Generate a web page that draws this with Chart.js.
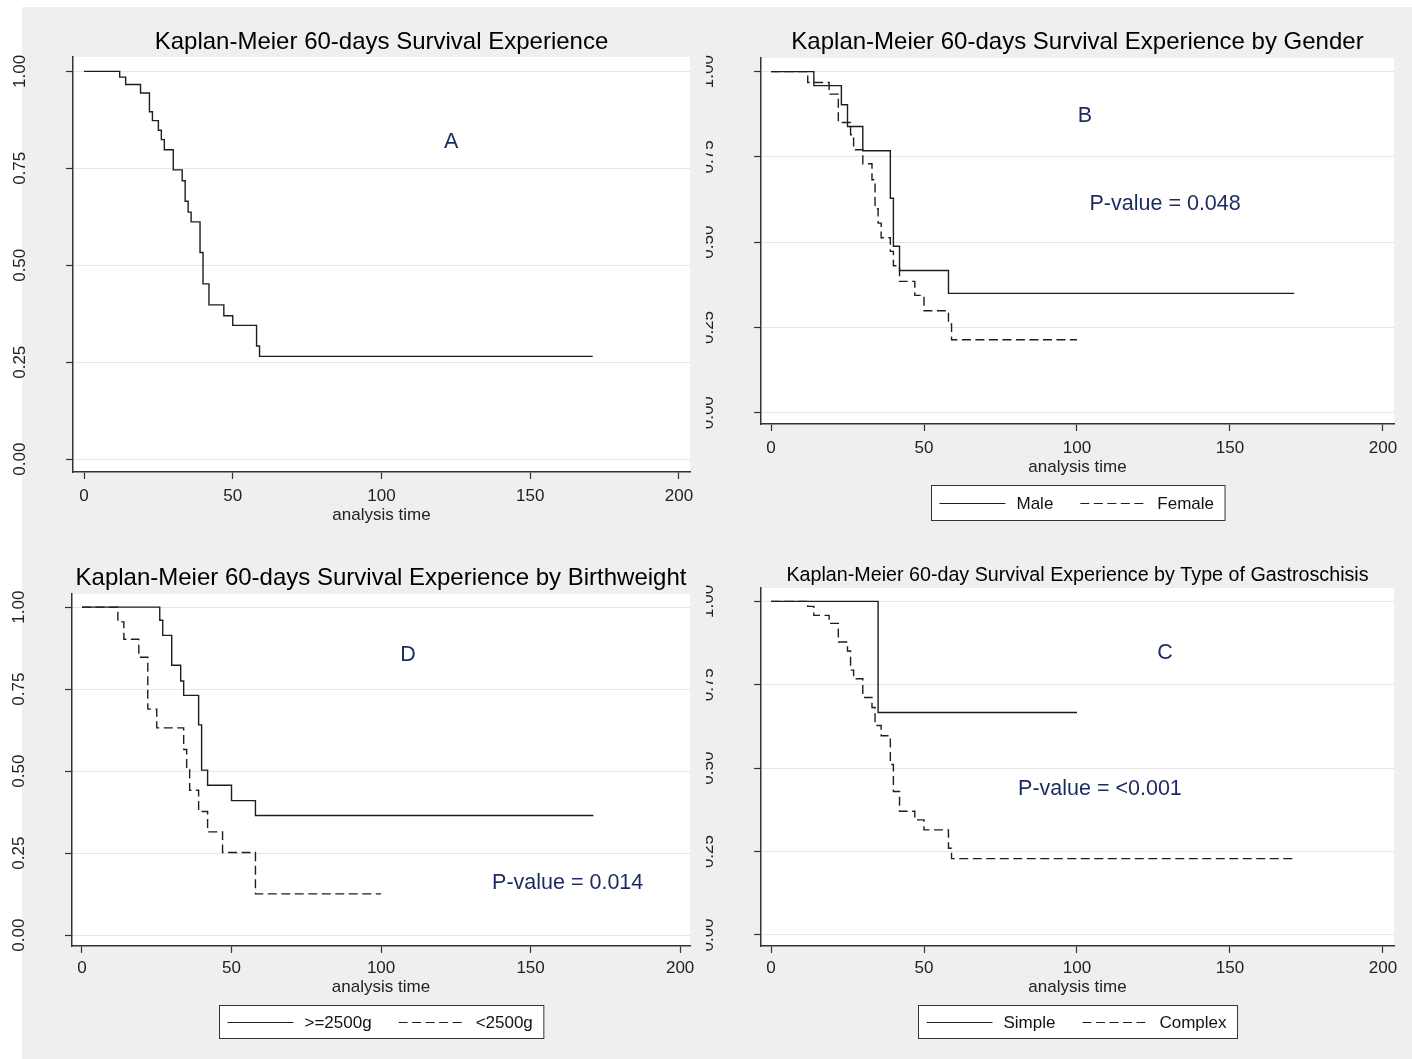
<!DOCTYPE html>
<html><head><meta charset="utf-8">
<script src="https://cdn.jsdelivr.net/npm/chart.js@4.4.0/dist/chart.umd.min.js"></script>
<style>
html,body{margin:0;padding:0;background:#fff;width:1412px;height:1059px;overflow:hidden;position:relative;}
#bg{position:absolute;left:22px;top:7px;width:1390px;height:1052px;background:#efefef;}
canvas{position:absolute;}
</style></head><body>
<div id="bg"></div>
<canvas id="cA" width="706" height="530" style="left:0;top:0;width:706px;height:530px"></canvas>
<canvas id="cB" width="706" height="530" style="left:706px;top:0;width:706px;height:530px"></canvas>
<canvas id="cD" width="706" height="529" style="left:0;top:530px;width:706px;height:529px"></canvas>
<canvas id="cC" width="706" height="529" style="left:706px;top:530px;width:706px;height:529px"></canvas>
<script>
// ---- data ----
const xTicks = [0, 50, 100, 150, 200];
const yTicks = [0, 0.25, 0.5, 0.75, 1];

const timeAll = [0,12,14,19,22,23,25,26,27,30,33,34,35,36,39,40,42,47,50,58,59,171];
const survAll = [1,0.985,0.966,0.944,0.896,0.873,0.848,0.824,0.798,0.746,0.718,0.665,0.637,0.612,0.533,0.452,0.398,0.370,0.345,0.292,0.265,0.265];

const timeMale = [0,14,23,25,30,39,40,42,58,171];
const survMale = [1,0.959,0.903,0.839,0.768,0.629,0.488,0.417,0.350,0.350];
const timeFemale = [0,12,19,22,26,27,30,33,34,35,36,39,40,42,47,50,58,59,100];
const survFemale = [1,0.968,0.934,0.851,0.815,0.771,0.730,0.683,0.598,0.556,0.513,0.473,0.431,0.385,0.344,0.299,0.260,0.214,0.214];

const timeHeavy = [0,26,27,30,33,34,39,40,42,50,58,171];
const survHeavy = [1,0.960,0.914,0.823,0.775,0.731,0.641,0.503,0.457,0.410,0.365,0.365];
const timeLight = [0,12,14,19,22,25,34,35,36,39,42,47,58,100];
const survLight = [1,0.955,0.902,0.847,0.689,0.632,0.566,0.505,0.442,0.377,0.315,0.252,0.126,0.126];

const timeSimple = [0,35,100];
const survSimple = [1,0.667,0.667];
const timeComplex = [0,12,14,19,22,25,26,27,30,33,34,36,39,40,42,47,50,58,59,171];
const survComplex = [1,0.985,0.958,0.934,0.878,0.851,0.794,0.768,0.712,0.682,0.628,0.597,0.511,0.430,0.371,0.345,0.315,0.260,0.229,0.229];

// ---- styling ----
const FONT = '"Liberation Sans", Arial, Helvetica, sans-serif';
Chart.defaults.font.family = FONT;
const DASH = [9, 4.5];
const INK = '#1e1e1e';

const kmDecor = {
  id: 'kmDecor',
  beforeDraw(chart) {
    const {ctx, chartArea: a} = chart;
    ctx.save();
    ctx.fillStyle = '#ffffff';
    ctx.fillRect(a.left, a.top, a.right - a.left, a.bottom - a.top);
    ctx.restore();
  },
  afterDraw(chart, args, o) {
    const {ctx, chartArea: a, scales} = chart;
    const cx = (a.left + a.right) / 2;
    ctx.save();
    ctx.textAlign = 'center';
    ctx.textBaseline = 'middle';
    ctx.fillStyle = '#000';
    ctx.font = o.titleSize + 'px ' + FONT;
    ctx.fillText(o.title, cx, o.titleY);
    ctx.fillStyle = '#1c2b5e';
    (o.notes || []).forEach(n => {
      ctx.font = n.size + 'px ' + FONT;
      ctx.fillText(n.text, scales.x.getPixelForValue(n.x), scales.y.getPixelForValue(n.y));
    });
    if (o.legend) {
      const L = o.legend;
      ctx.font = '17px ' + FONT;
      const pad = 8, lineLen = 66, gapText = 11, gapItem = 27, padR = 11;
      const widths = L.labels.map(t => ctx.measureText(t).width);
      let total = pad + padR + gapItem * (L.labels.length - 1);
      widths.forEach(w => total += lineLen + gapText + w);
      const left = Math.round(cx - total / 2) + 0.5;
      const top = L.top + 0.5;
      ctx.fillStyle = '#fff';
      ctx.fillRect(left, top, total, L.h);
      ctx.strokeStyle = '#333';
      ctx.lineWidth = 1;
      ctx.strokeRect(left, top, total, L.h);
      const ym = Math.round(top + L.h / 2) + 0.5;
      let x = left + pad;
      L.labels.forEach((t, i) => {
        ctx.strokeStyle = INK;
        ctx.lineWidth = 1.2;
        ctx.setLineDash(L.dash[i] ? DASH : []);
        ctx.beginPath(); ctx.moveTo(x, ym); ctx.lineTo(x + lineLen, ym); ctx.stroke();
        ctx.setLineDash([]);
        ctx.fillStyle = '#111';
        ctx.textAlign = 'left';
        ctx.fillText(t, x + lineLen + gapText, ym + 1);
        x += lineLen + gapText + widths[i] + gapItem;
      });
    }
    ctx.restore();
  }
};

function makePanel(id, cfg) {
  const datasets = cfg.series.map(s => ({
    label: s.label,
    data: s.t.map((t, i) => ({x: t, y: s.s[i]})),
    stepped: 'before',
    borderColor: INK,
    borderWidth: 1.4,
    borderDash: s.dash ? DASH : [],
    pointRadius: 0,
    fill: false
  }));
  return new Chart(document.getElementById(id), {
    type: 'line',
    data: {datasets},
    options: {
      responsive: false,
      animation: false,
      layout: {padding: cfg.pad},
      plugins: {legend: {display: false}, title: {display: false}, tooltip: {enabled: false}, kmDecor: cfg.decor},
      scales: {
        x: {
          type: 'linear', min: cfg.xMin, max: cfg.xMax,
          afterBuildTicks: s => { s.ticks = xTicks.map(v => ({value: v})); },
          afterFit: s => { s.height = cfg.xH; },
          grid: {drawOnChartArea: false, drawTicks: true, tickLength: 7, tickColor: '#333', tickWidth: 1.2},
          border: {display: true, color: '#333', width: 1.5},
          ticks: {color: '#222', font: {size: 17}, padding: cfg.xPad, maxRotation: 0, autoSkip: false, callback: v => String(v)},
          title: {display: true, text: 'analysis time', color: '#222', font: {size: 17}, padding: {top: 0, bottom: 0}}
        },
        y: {
          type: 'linear', min: cfg.yMin, max: cfg.yMax,
          afterBuildTicks: s => { s.ticks = yTicks.map(v => ({value: v})); },
          afterFit: s => { s.width = cfg.yW; },
          grid: {color: '#e6e6e6', lineWidth: 1, drawTicks: true, tickLength: 7, tickColor: '#333', tickWidth: 1.2},
          border: {display: true, color: '#333', width: 1.5},
          ticks: {color: '#222', font: {size: 17}, padding: 29, minRotation: 90, maxRotation: 90, crossAlign: 'center', autoSkip: false, callback: v => v.toFixed(2)}
        }
      }
    },
    plugins: [kmDecor]
  });
}

makePanel('cA', {
  pad: {left: 0, right: 16, top: 57, bottom: 4}, yW: 73, xH: 54, xPad: 7.5,
  xMin: -3.7, xMax: 203.7, yMin: -0.033, yMax: 1.037,
  series: [{label: 'All', t: timeAll, s: survAll, dash: false}],
  decor: {title: 'Kaplan-Meier 60-days Survival Experience', titleSize: 24, titleY: 42,
          notes: [{text: 'A', x: 123.4, y: 0.817, size: 21.5}]}
});

makePanel('cB', {
  pad: {left: 0, right: 18, top: 58, bottom: 52}, yW: 55, xH: 54, xPad: 7,
  xMin: -3.27, xMax: 203.6, yMin: -0.033, yMax: 1.04,
  series: [{label: 'Male', t: timeMale, s: survMale, dash: false},
           {label: 'Female', t: timeFemale, s: survFemale, dash: true}],
  decor: {title: 'Kaplan-Meier 60-days Survival Experience by Gender', titleSize: 24, titleY: 42,
          notes: [{text: 'B', x: 102.6, y: 0.870, size: 21.5}, {text: 'P-value = 0.048', x: 128.8, y: 0.612, size: 21.5}],
          legend: {labels: ['Male', 'Female'], dash: [false, true], top: 485, h: 35}}
});

makePanel('cD', {
  pad: {left: 0, right: 16, top: 64, bottom: 61}, yW: 72, xH: 52, xPad: 5,
  xMin: -3.34, xMax: 203.3, yMin: -0.033, yMax: 1.04,
  series: [{label: '>=2500g', t: timeHeavy, s: survHeavy, dash: false},
           {label: '<2500g', t: timeLight, s: survLight, dash: true}],
  decor: {title: 'Kaplan-Meier 60-days Survival Experience by Birthweight', titleSize: 24, titleY: 48,
          notes: [{text: 'D', x: 109, y: 0.853, size: 21.5}, {text: 'P-value = 0.014', x: 162.4, y: 0.158, size: 21.5}],
          legend: {labels: ['>=2500g', '<2500g'], dash: [false, true], top: 475, h: 33}}
});

makePanel('cC', {
  pad: {left: 0, right: 18, top: 58, bottom: 61}, yW: 55, xH: 52, xPad: 5,
  xMin: -3.27, xMax: 203.6, yMin: -0.033, yMax: 1.04,
  series: [{label: 'Simple', t: timeSimple, s: survSimple, dash: false},
           {label: 'Complex', t: timeComplex, s: survComplex, dash: true}],
  decor: {title: 'Kaplan-Meier 60-day Survival Experience by Type of Gastroschisis', titleSize: 19.7, titleY: 46,
          notes: [{text: 'C', x: 128.8, y: 0.846, size: 21.5}, {text: 'P-value = <0.001', x: 107.5, y: 0.438, size: 21.5}],
          legend: {labels: ['Simple', 'Complex'], dash: [false, true], top: 475, h: 33}}
});
</script>
</body></html>
